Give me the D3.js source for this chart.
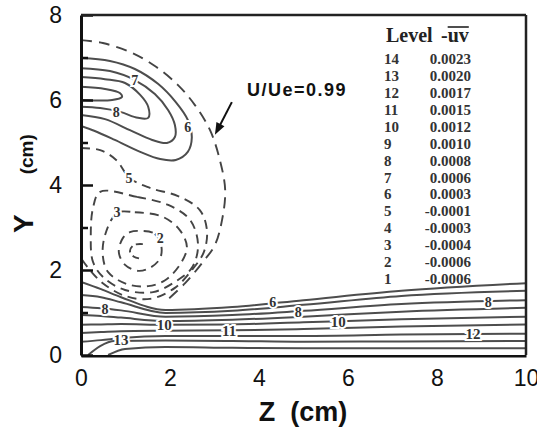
<!DOCTYPE html>
<html>
<head>
<meta charset="utf-8">
<script src="https://cdn.jsdelivr.net/npm/d3@7"></script>
<style>
body { margin: 0; background: #fff; }
</style>
</head>
<body>
<div id="chart"></div>
<script>
// legend table
const levelIds = [14, 13, 12, 11, 10, 9, 8, 7, 6, 5, 4, 3, 2, 1];
const levelValues = ["0.0023", "0.0020", "0.0017", "0.0015", "0.0012", "0.0010", "0.0008",
                     "0.0006", "0.0003", "-0.0001", "-0.0003", "-0.0004", "-0.0006", "-0.0006"];

const xTicks = [0, 2, 4, 6, 8, 10];
const xMinor = [1, 3, 5, 7, 9];
const yTicks = [0, 2, 4, 6, 8];
const yMinor = [1, 3, 5, 7];

// contour lines, [z, y] in cm
// U/Ue = 0.99 edge
const edge099 = [[0, 7.41], [0.49, 7.34], [1.10, 7.13], [1.66, 6.80], [2.18, 6.35], [2.56, 5.88],
                 [2.90, 5.29], [3.12, 4.59], [3.24, 3.88], [3.17, 3.18], [3.01, 2.59], [2.74, 2.19],
                 [2.34, 1.69], [1.89, 1.25]];

// upper positive cell (levels 6..9)
const top6 = [[0, 6.99], [0.65, 6.92], [1.21, 6.73], [1.73, 6.38], [2.13, 5.95], [2.40, 5.53],
              [2.49, 5.11], [2.40, 4.78], [2.13, 4.59], [1.78, 4.61], [1.33, 4.78], [0.76, 5.06],
              [0.31, 5.27], [0, 5.39]];
const top7 = [[0, 6.75], [0.65, 6.68], [1.21, 6.47], [1.66, 6.14], [1.96, 5.76], [2.11, 5.41],
              [2.11, 5.13], [1.93, 4.99], [1.60, 5.06], [1.10, 5.29], [0.54, 5.55], [0, 5.65]];
const top8 = [[0, 6.54], [0.54, 6.49], [0.99, 6.40], [1.33, 6.12], [1.51, 5.84], [1.51, 5.58],
              [1.28, 5.58], [0.88, 5.72], [0.43, 5.81], [0, 5.84]];
const top9 = [[0, 6.31], [0.54, 6.26], [0.88, 6.16], [0.92, 6.07], [0.70, 6.00], [0, 6.00]];

// negative cell (levels 1..5), dashed
const neg1 = [[1.39, 2.61], [1.19, 2.59], [1.10, 2.45], [1.19, 2.31], [1.39, 2.26]];
const neg2 = [[1.33, 2.92], [1.66, 2.85], [1.80, 2.59], [1.78, 2.28], [1.55, 2.05], [1.28, 1.98],
              [0.99, 2.12], [0.85, 2.42], [0.94, 2.75], [1.10, 2.89]];
const neg3 = [[0.81, 3.34], [1.21, 3.36], [1.84, 3.25], [2.22, 2.94], [2.38, 2.54], [2.22, 2.12],
              [1.89, 1.76], [1.51, 1.62], [1.03, 1.67], [0.61, 1.95], [0.49, 2.33], [0.54, 2.82]];
const neg4 = [[0.43, 3.84], [1.26, 3.72], [1.96, 3.53], [2.45, 3.18], [2.63, 2.59], [2.49, 2.05],
              [2.11, 1.72], [1.62, 1.48], [0.99, 1.53], [0.52, 1.81], [0.27, 2.19], [0.22, 2.82],
              [0.27, 3.46]];
const neg5 = [[0, 4.87], [0.43, 4.82], [0.79, 4.59], [1.10, 4.16], [1.55, 3.93], [2.18, 3.74],
              [2.67, 3.41], [2.83, 2.94], [2.76, 2.42], [2.49, 2.00], [2.11, 1.58], [1.55, 1.32],
              [0.99, 1.39], [0.49, 1.69], [0.16, 2.05], [0, 2.28]];

// near-wall layer (levels 6..14)
const wall6 = [[0, 1.72], [0.45, 1.55], [0.9, 1.36], [1.9, 1.06], [3.4, 1.13], [5, 1.29], [7.2, 1.51], [10, 1.69]];
const wall7 = [[0, 1.41], [0.45, 1.36], [0.9, 1.24], [1.9, 0.99], [3.4, 1.04], [5, 1.18], [7.2, 1.39], [10, 1.51]];
const wall8 = [[0, 1.13], [0.45, 1.10], [0.9, 1.05], [1.9, 0.90], [3.4, 0.94], [5, 1.04], [7.2, 1.20], [10, 1.29]];
const wall9 = [[0, 0.94], [0.45, 0.92], [0.9, 0.88], [1.9, 0.80], [3.4, 0.83], [5, 0.90], [7.2, 1.02], [10, 1.11]];
const wall10 = [[0, 0.71], [0.45, 0.72], [0.9, 0.73], [1.9, 0.71], [3.4, 0.72], [5, 0.77], [7.2, 0.84], [10, 0.90]];
const wall11 = [[0, 0.52], [0.45, 0.54], [0.9, 0.56], [1.9, 0.57], [3.4, 0.58], [5, 0.61], [7.2, 0.67], [10, 0.72]];
const wall12 = [[0, 0.31], [0.45, 0.35], [0.9, 0.40], [1.9, 0.45], [3.4, 0.45], [5, 0.45], [7.2, 0.48], [10, 0.50]];
const wall13 = [[0.16, 0], [0.43, 0.21], [0.76, 0.33], [1.9, 0.34], [3.4, 0.33], [5, 0.31], [7.2, 0.32], [10, 0.33]];
const wall14 = [[0.61, 0], [0.99, 0.14], [1.9, 0.19], [3.4, 0.17], [5, 0.16], [7.2, 0.16], [10, 0.16]];

// inline contour labels
const contourLabels = [
    {t: "7", z: 1.21, y: 6.47}, {t: "8", z: 0.79, y: 5.72}, {t: "6", z: 2.40, y: 5.36},
    {t: "5", z: 1.08, y: 4.16}, {t: "3", z: 0.81, y: 3.36}, {t: "2", z: 1.78, y: 2.75},
    {t: "6", z: 4.31, y: 1.24}, {t: "8", z: 0.54, y: 1.08}, {t: "8", z: 4.88, y: 1.02},
    {t: "8", z: 9.15, y: 1.24}, {t: "10", z: 1.87, y: 0.71}, {t: "10", z: 5.78, y: 0.79},
    {t: "11", z: 3.33, y: 0.58}, {t: "12", z: 8.81, y: 0.49}, {t: "13", z: 0.90, y: 0.36}
];

const W = 555, H = 430;
const sans = "'Liberation Sans', Arial, Helvetica, sans-serif";
const serif = "'Times New Roman', 'Liberation Serif', Times, serif";

const svg = d3.select("#chart").append("svg")
    .attr("width", W).attr("height", H)
    .attr("font-family", sans);

const x = d3.scaleLinear().domain([0, 10]).range([81, 526]);
const y = d3.scaleLinear().domain([0, 8]).range([355, 15]);

svg.append("clipPath").attr("id", "plotClip")
   .append("rect")
   .attr("x", x(0)).attr("y", y(8))
   .attr("width", x(10) - x(0)).attr("height", y(0) - y(8));

const plot = svg.append("g").attr("clip-path", "url(#plotClip)");

const lineOpen = d3.line().x(d => x(d[0])).y(d => y(d[1])).curve(d3.curveCatmullRom.alpha(0.5));
const lineClosed = d3.line().x(d => x(d[0])).y(d => y(d[1])).curve(d3.curveCatmullRomClosed.alpha(0.5));
const lineWall = d3.line().x(d => x(d[0])).y(d => y(d[1])).curve(d3.curveMonotoneX);

const solid = (g) => g.attr("fill", "none").attr("stroke", "#4d4d4d").attr("stroke-width", 2);
const dashed = (g) => g.attr("fill", "none").attr("stroke", "#444").attr("stroke-width", 1.9)
                       .attr("stroke-dasharray", "9,6");

[top6, top7, top8, top9].forEach(c => plot.append("path").attr("d", lineOpen(c)).call(solid));
[wall6, wall7, wall8, wall9, wall10, wall11, wall12, wall13, wall14]
    .forEach(c => plot.append("path").attr("d", lineWall(c)).call(solid));

plot.append("path").attr("d", lineOpen(edge099)).call(dashed).attr("stroke-dasharray", "11,7");
plot.append("path").attr("d", lineOpen(neg5)).call(dashed);
[neg4, neg3, neg2].forEach(c => plot.append("path").attr("d", lineClosed(c)).call(dashed));
plot.append("path").attr("d", lineOpen(neg1)).call(dashed).attr("stroke-dasharray", "7,4");

// labels sitting on the lines
plot.selectAll("text.clab").data(contourLabels).enter().append("text")
    .attr("class", "clab")
    .attr("x", d => x(d.z)).attr("y", d => y(d.y))
    .attr("dy", "0.35em")
    .attr("text-anchor", "middle")
    .attr("font-family", serif)
    .attr("font-weight", "bold")
    .attr("font-size", d => d.t.length > 1 ? 15 : 14)
    .attr("fill", "#333")
    .attr("stroke", "#fff").attr("stroke-width", 4).attr("paint-order", "stroke")
    .text(d => d.t);

// axes
const gx = svg.append("g").attr("transform", `translate(0,${y(0)})`);
gx.call(d3.axisBottom(x).tickValues(xTicks).tickSize(-8).tickSizeOuter(0).tickPadding(15).tickFormat(d3.format("d")));
gx.append("g").call(d3.axisBottom(x).tickValues(xMinor).tickSize(-4).tickSizeOuter(0).tickFormat(""))
  .select(".domain").remove();
gx.select(".domain").attr("stroke", "#111").attr("stroke-width", 4);
gx.selectAll(".tick line").attr("stroke", "#111").attr("stroke-width", 2.5);
gx.selectAll(".tick text").attr("fill", "#111").attr("font-size", 23).attr("font-family", sans);

svg.append("clipPath").attr("id", "pageClip").append("rect")
   .attr("x", 0).attr("y", 0).attr("width", 537).attr("height", H);
gx.attr("clip-path", "url(#pageClip)");

const gy = svg.append("g").attr("transform", `translate(${x(0)},0)`);
gy.call(d3.axisLeft(y).tickValues(yTicks).tickSize(-12).tickSizeOuter(0).tickPadding(19).tickFormat(d3.format("d")));
gy.append("g").call(d3.axisLeft(y).tickValues(yMinor).tickSize(-7).tickSizeOuter(0).tickFormat(""))
  .select(".domain").remove();
gy.select(".domain").attr("stroke", "#111").attr("stroke-width", 3);
gy.selectAll(".tick line").attr("stroke", "#111").attr("stroke-width", 2.5);
gy.selectAll(".tick text").attr("fill", "#111").attr("font-size", 23).attr("font-family", sans);

// top and right frame
svg.append("line").attr("x1", x(0)).attr("x2", x(10)).attr("y1", y(8)).attr("y2", y(8))
   .attr("stroke", "#222").attr("stroke-width", 2.5);
svg.append("line").attr("x1", x(10)).attr("x2", x(10)).attr("y1", y(8)).attr("y2", y(0))
   .attr("stroke", "#222").attr("stroke-width", 2.5);

// axis titles
svg.append("text").attr("x", 303).attr("y", 421).attr("text-anchor", "middle")
   .attr("font-size", 27).attr("font-weight", "bold").attr("fill", "#111")
   .style("white-space", "pre").text("Z  (cm)");

const yt = svg.append("text").attr("transform", "translate(33,233) rotate(-90)")
   .attr("fill", "#111").attr("font-weight", "bold").style("white-space", "pre");
yt.append("tspan").attr("font-size", 28).text("Y");
yt.append("tspan").attr("font-size", 19).attr("dx", 40).text("(cm)");

// annotation for the edge line
svg.append("text").attr("x", 247).attr("y", 96)
   .attr("font-size", 18).attr("font-weight", "bold").attr("letter-spacing", 1.5)
   .attr("fill", "#111").text("U/Ue=0.99");
svg.append("line")
   .attr("x1", x(3.39)).attr("y1", y(5.95)).attr("x2", x(3.07)).attr("y2", y(5.30))
   .attr("stroke", "#111").attr("stroke-width", 2);
{
    const tx = x(3.01), ty = y(5.18);
    const ang = Math.atan2(y(5.95) - ty, x(3.39) - tx);
    const L = 12, Wd = 4.5;
    const bx = tx + L * Math.cos(ang), by = ty + L * Math.sin(ang);
    const px = -Math.sin(ang) * Wd, py = Math.cos(ang) * Wd;
    svg.append("path")
       .attr("d", `M${tx},${ty}L${bx + px},${by + py}L${bx - px},${by - py}Z`)
       .attr("fill", "#111");
}

// legend
const head = svg.append("g").attr("font-family", serif).attr("font-weight", "bold")
    .attr("font-size", 20).attr("fill", "#222");
head.append("text").attr("x", 386).attr("y", 42).text("Level");
const uvDash = head.append("text").attr("x", 441).attr("y", 42).text("-");
const dashW = uvDash.node().getComputedTextLength();
const uv = head.append("text").attr("x", 441 + dashW).attr("y", 42).text("uv");
const uvW = uv.node().getComputedTextLength();
head.append("line").attr("x1", 441 + dashW).attr("x2", 441 + dashW + uvW)
    .attr("y1", 27).attr("y2", 27).attr("stroke", "#222").attr("stroke-width", 1.6);

const rows = svg.append("g").attr("font-family", serif).attr("font-weight", "bold")
    .attr("font-size", 15).attr("fill", "#333");
levelIds.forEach((id, i) => {
    const cy = 59 + i * 16.9;
    rows.append("text").attr("x", 384).attr("y", cy).attr("dy", "0.35em").text(id);
    rows.append("text").attr("x", 471).attr("y", cy).attr("dy", "0.35em")
        .attr("text-anchor", "end").text(levelValues[i]);
});
</script>
</body>
</html>
